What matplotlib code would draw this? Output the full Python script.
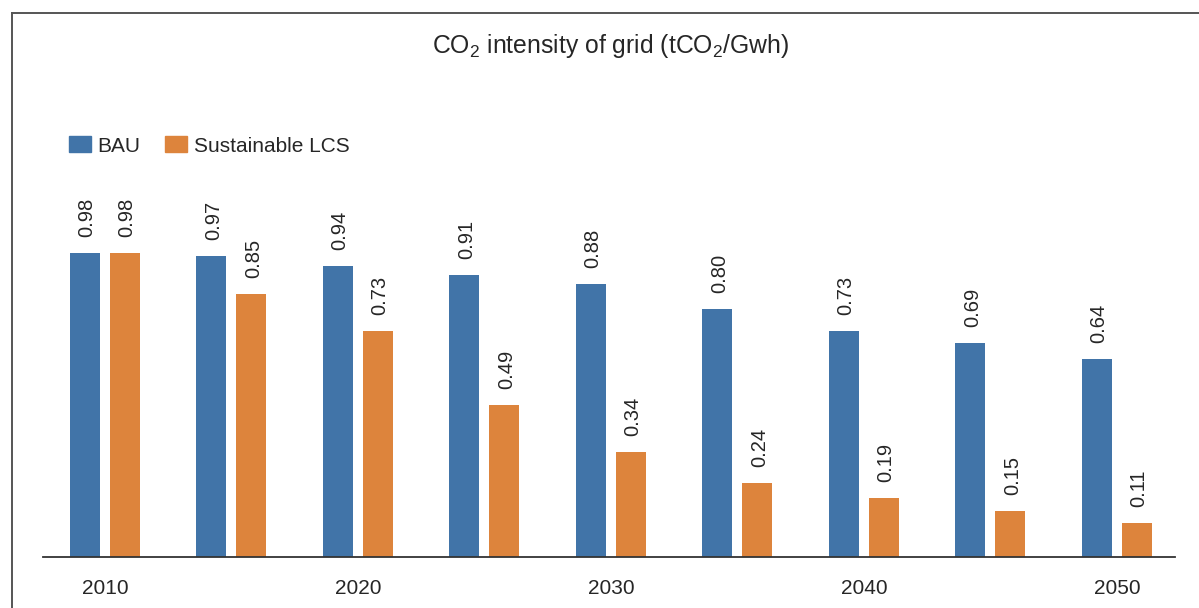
import numpy as np
import matplotlib.pyplot as plt
from matplotlib.patches import Patch
from matplotlib.lines import Line2D

years = [2010, 2015, 2020, 2025, 2030, 2035, 2040, 2045, 2050]
bau = [0.98, 0.97, 0.94, 0.91, 0.88, 0.80, 0.73, 0.69, 0.64]
lcs = [0.98, 0.85, 0.73, 0.49, 0.34, 0.24, 0.19, 0.15, 0.11]
tick_years = years[::2]

blue = "#4174a8"
orange = "#dd843c"
text_col = "#262626"

plt.rcParams["font.family"] = ["Liberation Sans", "DejaVu Sans"]
plt.rcParams["mathtext.default"] = "regular"

W, H = 1199, 608
fig = plt.figure(figsize=(W / 100, H / 100), dpi=100)
ax = fig.add_axes([43 / W, (H - 557) / H, (1175 - 43) / W, 372 / H])

x = np.arange(len(years))
width = 0.237
off = 0.158
b1 = ax.bar(x - off, bau, width, color=blue)
b2 = ax.bar(x + off, lcs, width, color=orange)

# rotated value labels above each bar
for bars, vals in [(b1, bau), (b2, lcs)]:
    for rect, v in zip(bars, vals):
        ax.annotate(f"{v:.2f}", (rect.get_x() + rect.get_width() / 2, v),
                    xytext=(1.5, 11.5), textcoords="offset points",
                    rotation=90, ha="center", va="bottom",
                    fontsize=14.5, color=text_col)

ax.set_xlim(-0.49, 8.46)
ax.set_ylim(0, 1.2)
ax.set_yticks([])
ax.set_xticks(x[::2])
ax.set_xticklabels([str(y) for y in tick_years], fontsize=15, color=text_col)
ax.tick_params(axis="x", length=0, pad=16)
for s in ["top", "right", "left"]:
    ax.spines[s].set_visible(False)
ax.spines["bottom"].set_color("#333333")
ax.spines["bottom"].set_linewidth(1.3)

fig.text(611 / W, 1 - 46 / H, "CO$_2$ intensity of grid (tCO$_2$/Gwh)",
         ha="center", va="center", fontsize=17.8, color=text_col)

handles = [Patch(color=blue, label="BAU"), Patch(color=orange, label="Sustainable LCS")]
fig.legend(handles=handles, loc="center left", bbox_to_anchor=(69 / W, 1 - 146 / H),
           frameon=False, ncol=2, fontsize=15, handlelength=1.06, handleheight=0.77,
           handletextpad=0.3, columnspacing=1.2, borderpad=0, borderaxespad=0,
           labelcolor=text_col)

# outer frame (left and top edges visible)
fig.add_artist(Line2D([11.5 / W, 11.5 / W], [0, 1 - 13 / H], color="#555555", lw=1.4))
fig.add_artist(Line2D([11.5 / W, 1], [1 - 13 / H, 1 - 13 / H], color="#555555", lw=1.4))

fig.savefig("out.png", dpi=100)
